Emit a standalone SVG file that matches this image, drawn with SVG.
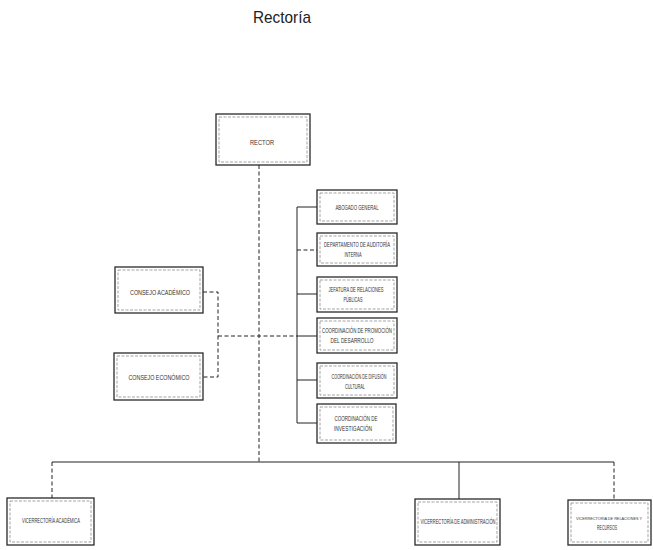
<svg xmlns="http://www.w3.org/2000/svg" width="653" height="550" viewBox="0 0 653 550">
<style>
.bx{fill:#fff;stroke:#2a2a2a;stroke-width:1.3}
.in{fill:none;stroke:#666;stroke-width:0.6;stroke-dasharray:3 1.5}
.t{font-family:"Liberation Sans",Arial,sans-serif;font-size:6.5px;fill:#333;text-anchor:middle}
.ln{fill:none;stroke:#222;stroke-width:1}
.dl{fill:none;stroke:#222;stroke-width:1;stroke-dasharray:4 2.5}
.title{font-family:"Liberation Sans",Arial,sans-serif;font-size:17px;fill:#222}
</style>
<rect width="653" height="550" fill="#fff"/>
<text class="title" x="253" y="23" textLength="58" lengthAdjust="spacingAndGlyphs">Rectoría</text>

<g id="connectors">
  <path class="dl" d="M259 165 V462"/>
  <path class="ln" d="M52 462 H614"/>
  <path class="dl" d="M52 462 V498"/>
  <path class="ln" d="M459 462 V499"/>
  <path class="dl" d="M614 462 V500"/>
  <path class="ln" d="M297 207 V423"/>
  <path class="ln" d="M297 207 H317"/>
  <path class="dl" d="M297 250 H317"/>
  <path class="ln" d="M297 294 H317"/>
  <path class="ln" d="M297 336 H317"/>
  <path class="ln" d="M297 380 H317"/>
  <path class="ln" d="M297 423 H317"/>
  <path class="dl" d="M203 292 H218 V377 H203"/>
  <path class="dl" d="M218 336 H297"/>
</g>

<g id="rector">
  <rect class="bx" x="216" y="114" width="94" height="51"/>
  <rect class="in" x="219" y="117" width="88" height="45"/>
  <text class="t" x="262" y="145" textLength="24" lengthAdjust="spacingAndGlyphs">RECTOR</text>
</g>

<g id="abogado">
  <rect class="bx" x="317" y="190" width="80" height="34"/>
  <rect class="in" x="320" y="193" width="74" height="28"/>
  <text class="t" x="357" y="210" textLength="43" lengthAdjust="spacingAndGlyphs">ABOGADO GENERAL</text>
</g>
<g id="auditoria">
  <rect class="bx" x="317" y="233" width="80" height="33"/>
  <rect class="in" x="320" y="236" width="74" height="27"/>
  <text class="t" x="357" y="247" textLength="66" lengthAdjust="spacingAndGlyphs">DEPARTAMENTO DE AUDITORÍA</text>
  <text class="t" x="353" y="257" textLength="17" lengthAdjust="spacingAndGlyphs">INTERNA</text>
</g>
<g id="relaciones">
  <rect class="bx" x="317" y="277" width="80" height="35"/>
  <rect class="in" x="320" y="280" width="74" height="29"/>
  <text class="t" x="356" y="292" textLength="55" lengthAdjust="spacingAndGlyphs">JEFATURA DE RELACIONES</text>
  <text class="t" x="353" y="302" textLength="19" lengthAdjust="spacingAndGlyphs">PÚBLICAS</text>
</g>
<g id="promocion">
  <rect class="bx" x="317" y="318" width="80" height="35"/>
  <rect class="in" x="320" y="321" width="74" height="29"/>
  <text class="t" x="357" y="333" textLength="70" lengthAdjust="spacingAndGlyphs">COORDINACIÓN DE PROMOCIÓN</text>
  <text class="t" x="352" y="343" textLength="43" lengthAdjust="spacingAndGlyphs">DEL DESARROLLO</text>
</g>
<g id="difusion">
  <rect class="bx" x="317" y="363" width="80" height="35"/>
  <rect class="in" x="320" y="366" width="74" height="29"/>
  <text class="t" x="359" y="379" textLength="55" lengthAdjust="spacingAndGlyphs">COORDINACIÓN DE DIFUSIÓN</text>
  <text class="t" x="355" y="389" textLength="20" lengthAdjust="spacingAndGlyphs">CULTURAL</text>
</g>
<g id="investigacion">
  <rect class="bx" x="317" y="404" width="79" height="39"/>
  <rect class="in" x="320" y="407" width="73" height="33"/>
  <text class="t" x="356" y="421" textLength="43" lengthAdjust="spacingAndGlyphs">COORDINACIÓN DE</text>
  <text class="t" x="353" y="431" textLength="38" lengthAdjust="spacingAndGlyphs">INVESTIGACIÓN</text>
</g>

<g id="consejo-academico">
  <rect class="bx" x="115" y="267" width="88" height="46"/>
  <rect class="in" x="118" y="270" width="82" height="40"/>
  <text class="t" x="160" y="295" textLength="60" lengthAdjust="spacingAndGlyphs">CONSEJO ACADÉMICO</text>
</g>
<g id="consejo-economico">
  <rect class="bx" x="114" y="353" width="89" height="47"/>
  <rect class="in" x="117" y="356" width="83" height="41"/>
  <text class="t" x="159" y="380" textLength="61" lengthAdjust="spacingAndGlyphs">CONSEJO ECONÓMICO</text>
</g>

<g id="vice-academica">
  <rect class="bx" x="7" y="498" width="87" height="47"/>
  <rect class="in" x="10" y="501" width="81" height="41"/>
  <text class="t" x="51" y="523" textLength="58" lengthAdjust="spacingAndGlyphs">VICERRECTORÍA ACADÉMICA</text>
</g>
<g id="vice-administracion">
  <rect class="bx" x="415" y="499" width="85" height="46"/>
  <rect class="in" x="418" y="502" width="79" height="40"/>
  <text class="t" x="458" y="524" textLength="75" lengthAdjust="spacingAndGlyphs">VICERRECTORÍA DE ADMINISTRACIÓN</text>
</g>
<g id="vice-relaciones">
  <rect class="bx" x="568" y="500" width="83" height="45"/>
  <rect class="in" x="571" y="503" width="77" height="39"/>
  <text class="t" x="609" y="520" style="font-size:4.3px" textLength="66" lengthAdjust="spacingAndGlyphs">VICERRECTORÍA DE RELACIONES Y</text>
  <text class="t" x="607" y="530" textLength="20" lengthAdjust="spacingAndGlyphs">RECURSOS</text>
</g>
</svg>
